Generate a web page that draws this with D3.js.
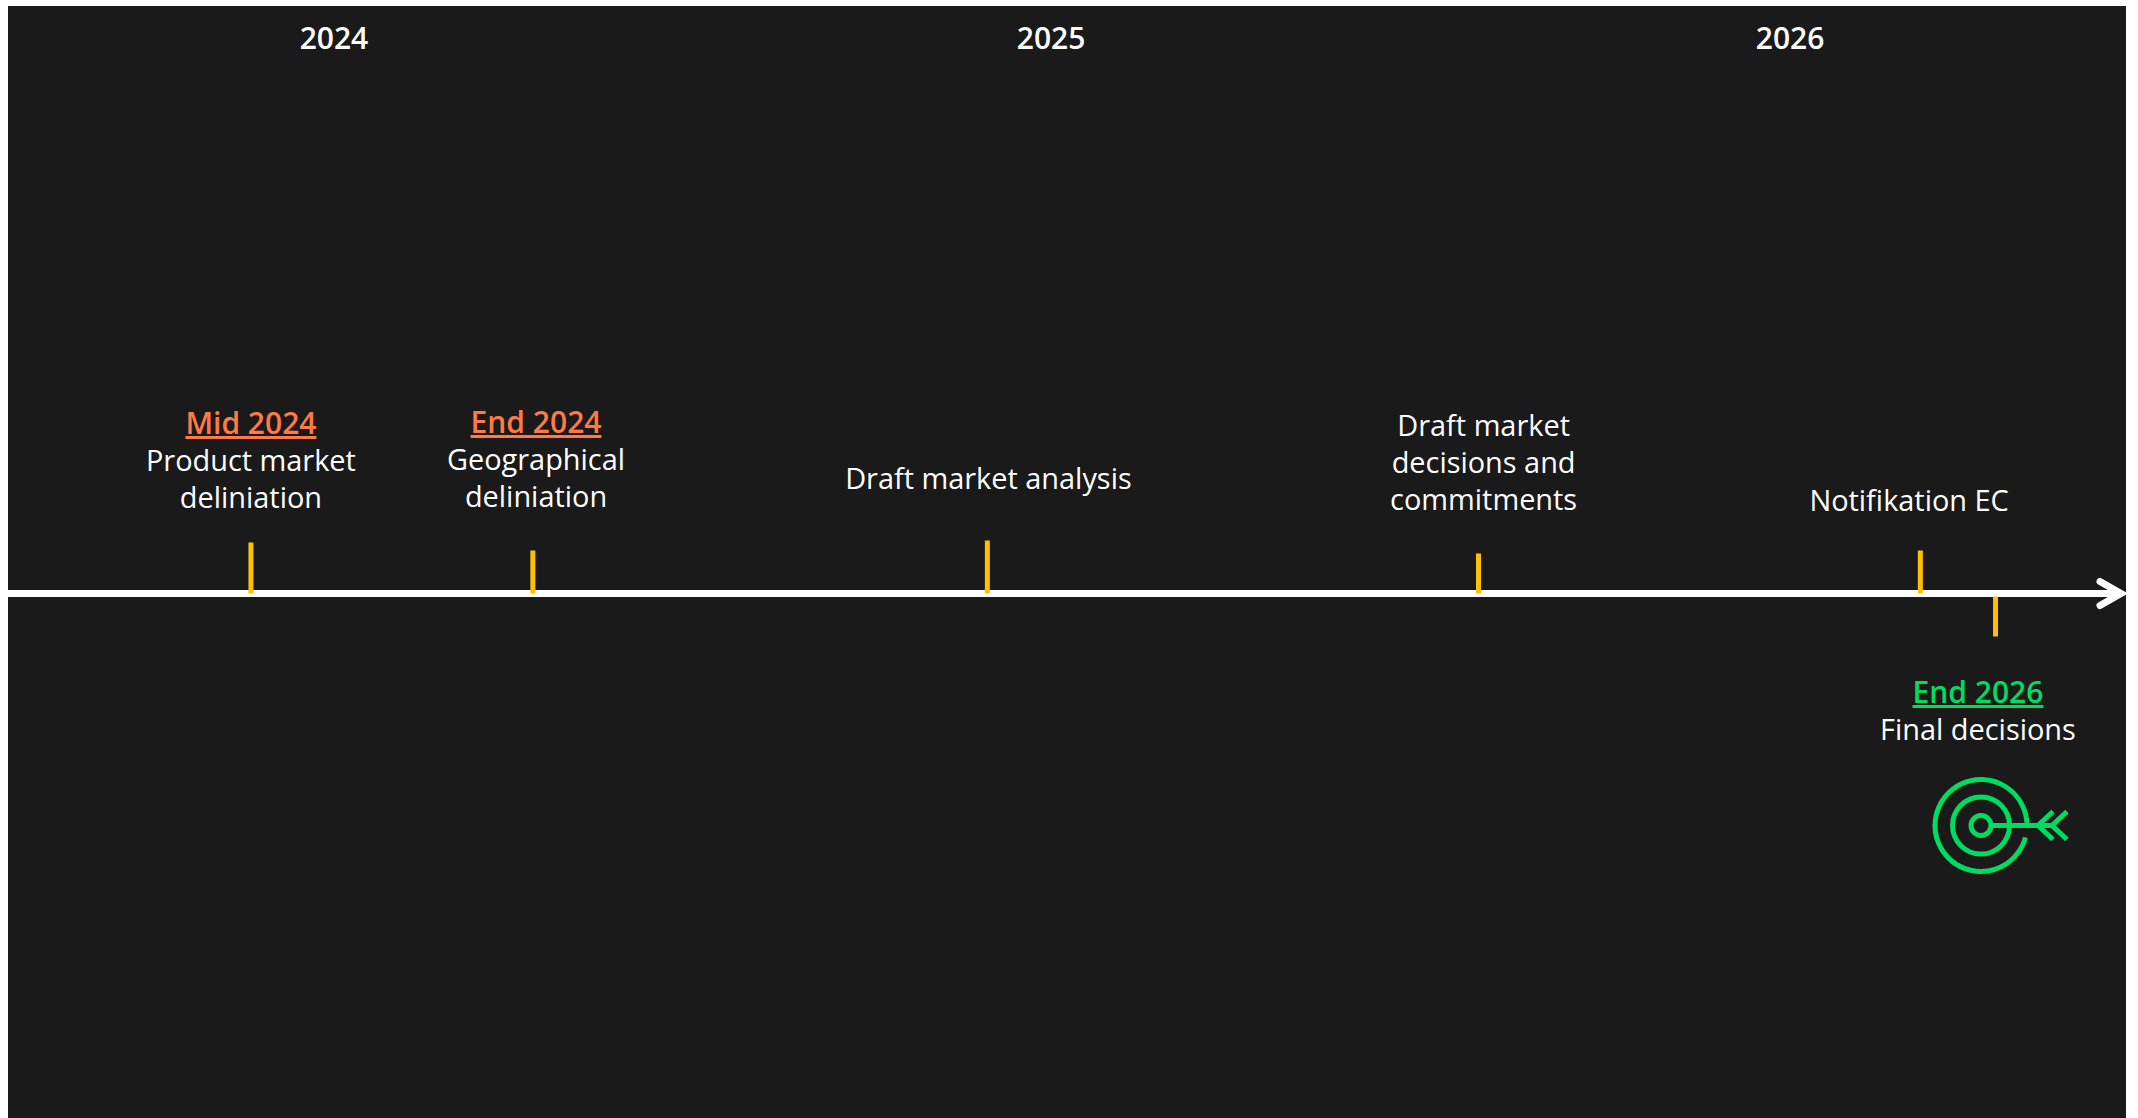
<!DOCTYPE html>
<html>
<head>
<meta charset="utf-8">
<title>Market review timeline</title>
<script src="https://cdn.jsdelivr.net/npm/d3@7"></script>
<style>
  html, body { margin: 0; padding: 0; background: #fff; overflow: hidden; }
  svg { display: block; }
  text { font-family: "Open Sans", "Noto Sans", sans-serif; text-anchor: middle; fill: #fff; }
</style>
</head>
<body>
<svg id="chart" width="2138" height="1118"></svg>
<script>
// Year headings and where they sit along the timeline (percent of its length)
const yearLabels = ["2024", "2025", "2026"];
const yearPositions = [15.39, 49.25, 84.14];

// Milestone stems: position along the timeline and signed reach (up is positive)
const stemPositions = [11.47, 24.78, 46.24, 69.43, 90.29, 93.84];
const stemReach = [51, 43, 53, 40, 43, -43];

// Milestone captions
const captionHeadings = ["Mid 2024", "End 2024", "", "", "", "End 2026"];
const captionTones = ["early", "early", "", "", "", "final"];
const captionLines = [
  ["Product market", "deliniation"],
  ["Geographical", "deliniation"],
  ["Draft market analysis"],
  ["Draft market", "decisions and", "commitments"],
  ["Notifikation EC"],
  ["Final decisions"]
];
const captionPositions = [11.47, 24.93, 46.29, 69.67, 89.76, 93.01];

const W = 2138, H = 1118;
const panel = { left: 8, right: 2126, top: 6 };
const axisY = 593.5;
const colors = { bg: "#1a1a1a", stem: "#ffc000", early: "#ff7a45", final: "#00dc62" };
const bodySize = 28.9, headSize = 30, lineGap = 37;

const svg = d3.select("#chart");
const x = d3.scaleLinear().domain([0, 100]).range([panel.left, panel.right]);
const y = d3.scaleLinear().domain([-50, 50]).range([axisY + 50, axisY - 50]);

svg.append("rect")
  .attr("x", panel.left).attr("y", panel.top)
  .attr("width", panel.right - panel.left).attr("height", H - panel.top)
  .attr("fill", colors.bg);

// Year headings
svg.append("g").selectAll("text").data(yearLabels).join("text")
  .attr("x", (d, i) => x(yearPositions[i]))
  .attr("y", 49)
  .attr("font-size", headSize)
  .attr("font-weight", 600)
  .text(d => d);

// Timeline with an open arrow head
svg.append("line")
  .attr("x1", x(0)).attr("x2", x(100) - 6)
  .attr("y1", axisY).attr("y2", axisY)
  .attr("stroke", "#fff").attr("stroke-width", 7);
svg.append("path")
  .attr("d", d3.line()([[x(100) - 26, axisY - 12], [x(100) - 5, axisY], [x(100) - 26, axisY + 12]]))
  .attr("fill", "none").attr("stroke", "#fff").attr("stroke-width", 7)
  .attr("stroke-linecap", "round");

// Milestone stems
svg.append("g").selectAll("line").data(stemPositions).join("line")
  .attr("x1", d => x(d)).attr("x2", d => x(d))
  .attr("y1", (d, i) => y(stemReach[i] > 0 ? 0 : -3))
  .attr("y2", (d, i) => y(stemReach[i]))
  .attr("stroke", colors.stem).attr("stroke-width", 5);

// Captions: optional underlined heading followed by the description lines
const lastBaselines = [508, 507, 489, 510, 511, 740];
captionLines.forEach((lines, i) => {
  const cx = x(captionPositions[i]);
  const last = lastBaselines[i];
  const g = svg.append("g");
  lines.forEach((line, k) => {
    g.append("text")
      .attr("x", cx)
      .attr("y", last - (lines.length - 1 - k) * lineGap)
      .attr("font-size", bodySize)
      .text(line);
  });
  if (captionHeadings[i]) {
    g.append("text")
      .attr("x", cx)
      .attr("y", last - lines.length * lineGap)
      .attr("font-size", headSize)
      .attr("font-weight", 600)
      .style("fill", colors[captionTones[i]])
      .style("text-decoration", "underline")
      .text(captionHeadings[i]);
  }
});

// Target icon: three rings with an arrow into the centre
const icon = svg.append("g")
  .attr("transform", "translate(1981,825.5)")
  .attr("fill", "none")
  .attr("stroke", colors.final)
  .attr("stroke-width", 5);
icon.append("circle").attr("r", 10);
icon.append("circle").attr("r", 28.5);
const outerRing = d3.path();
outerRing.arc(0, 0, 46, 0, Math.PI * 2 - 0.26, false);
icon.append("path").attr("d", outerRing.toString()).attr("transform", "rotate(15)");
icon.append("line").attr("x1", 10).attr("x2", 72).attr("y1", 0).attr("y2", 0);
[57, 71].forEach(ax => {
  icon.append("path").attr("d", d3.line()([[ax + 15, -14], [ax, 0], [ax + 15, 14]]));
});
</script>
</body>
</html>
